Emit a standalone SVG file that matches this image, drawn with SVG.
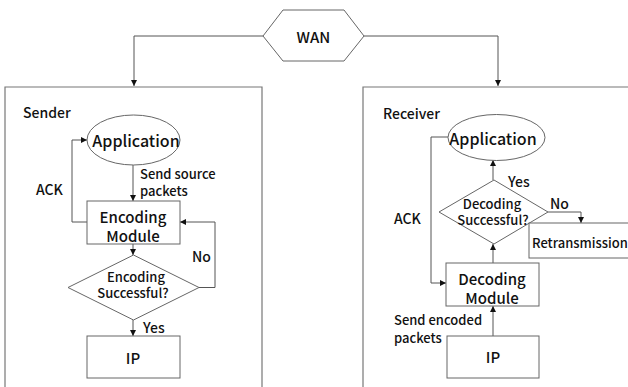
<svg xmlns="http://www.w3.org/2000/svg" width="628" height="387" viewBox="0 0 628 387">
<defs>
<style>
.t{font-family:"Noto Sans CJK SC","Noto Sans",sans-serif;font-weight:500;fill:#111;dominant-baseline:central}
.c{text-anchor:middle}
.s{fill:#fff;stroke:#666;stroke-width:1}
.ln{fill:none;stroke:#555;stroke-width:1}
.fr{fill:none;stroke:#777;stroke-width:1.2}
</style>
<marker id="ah" viewBox="0 0 6 6" refX="6" refY="3" markerWidth="6" markerHeight="6" orient="auto" markerUnits="userSpaceOnUse">
<path d="M0,0 L6,3 L0,6 z" fill="#111"/>
</marker>
</defs>
<rect width="628" height="387" fill="#fff"/>
<g id="sender-frame"><path class="fr" d="M5,395 V87 H262 V395"/><text class="t" x="23" y="112" font-size="14">Sender</text></g>
<g id="receiver-frame"><path class="fr" d="M363,395 V87 H640"/><text class="t" x="383" y="113" font-size="14">Receiver</text></g>
<g id="connectors">
<polyline class="ln" points="263,36 134,36 134,86" marker-end="url(#ah)"/>
<polyline class="ln" points="364,36 498,36 498,86" marker-end="url(#ah)"/>
<line class="ln" x1="133" y1="165" x2="133" y2="201" marker-end="url(#ah)"/>
<polyline class="ln" points="87,222 72,222 72,140 87,140" marker-end="url(#ah)"/>
<line class="ln" x1="133" y1="244" x2="133" y2="255" marker-end="url(#ah)"/>
<polyline class="ln" points="199,287.5 215,287.5 215,222 180,222" marker-end="url(#ah)"/>
<line class="ln" x1="133" y1="320" x2="133" y2="336" marker-end="url(#ah)"/>
<line class="ln" x1="493" y1="180" x2="493" y2="160" marker-end="url(#ah)"/>
<polyline class="ln" points="548,212 581,212 581,223" marker-end="url(#ah)"/>
<line class="ln" x1="493" y1="263" x2="493" y2="244" marker-end="url(#ah)"/>
<polyline class="ln" points="448,137 431,137 431,283 446,283" marker-end="url(#ah)"/>
<line class="ln" x1="493" y1="336" x2="493" y2="306" marker-end="url(#ah)"/>
<text class="t" x="140" y="173" font-size="13">Send source</text>
<text class="t" x="140" y="190" font-size="13">packets</text>
<text class="t" x="36" y="189" font-size="14">ACK</text>
<text class="t" x="192" y="256" font-size="14">No</text>
<text class="t" x="143" y="327" font-size="14">Yes</text>
<text class="t" x="508" y="181" font-size="14">Yes</text>
<text class="t" x="550" y="203" font-size="14">No</text>
<text class="t" x="394" y="218" font-size="14">ACK</text>
<text class="t" x="394" y="319" font-size="13">Send encoded</text>
<text class="t" x="394" y="337" font-size="13">packets</text>
</g>
<g id="wan"><polygon class="s" points="263,36 283,10 344,10 364,36 344,61 283,61"/><text class="t c" x="313.5" y="36" font-size="15">WAN</text></g>
<g id="s-app"><ellipse class="s" cx="133.5" cy="140" rx="46.5" ry="25"/><text class="t c" x="136" y="140" font-size="16">Application</text></g>
<g id="s-enc"><rect class="s" x="87" y="201" width="93" height="43"/><text class="t c" x="133" y="216" font-size="15">Encoding</text><text class="t c" x="133" y="235" font-size="15">Module</text></g>
<g id="s-dec"><polygon class="s" points="68,287.5 133.5,255 199,287.5 133.5,320"/><text class="t c" x="136" y="276" font-size="13">Encoding</text><text class="t c" x="133" y="292" font-size="13">Successful?</text></g>
<g id="s-ip"><rect class="s" x="87" y="336" width="93" height="42"/><text class="t c" x="133" y="357" font-size="15">IP</text></g>
<g id="r-app"><ellipse class="s" cx="496.5" cy="137.5" rx="48.5" ry="23"/><text class="t c" x="493" y="138" font-size="16">Application</text></g>
<g id="r-dec"><polygon class="s" points="439,212 494,180 548,212 494,244"/><text class="t c" x="492" y="203" font-size="13">Decoding</text><text class="t c" x="493" y="219" font-size="13">Successful?</text></g>
<g id="r-retx"><rect class="s" x="529" y="223" width="120" height="35"/><text class="t" x="532" y="242" font-size="13">Retransmission</text></g>
<g id="r-mod"><rect class="s" x="446" y="263" width="93" height="43"/><text class="t c" x="492" y="278" font-size="15">Decoding</text><text class="t c" x="492" y="297" font-size="15">Module</text></g>
<g id="r-ip"><rect class="s" x="447" y="336" width="92" height="42"/><text class="t c" x="493" y="356" font-size="15">IP</text></g>
</svg>
